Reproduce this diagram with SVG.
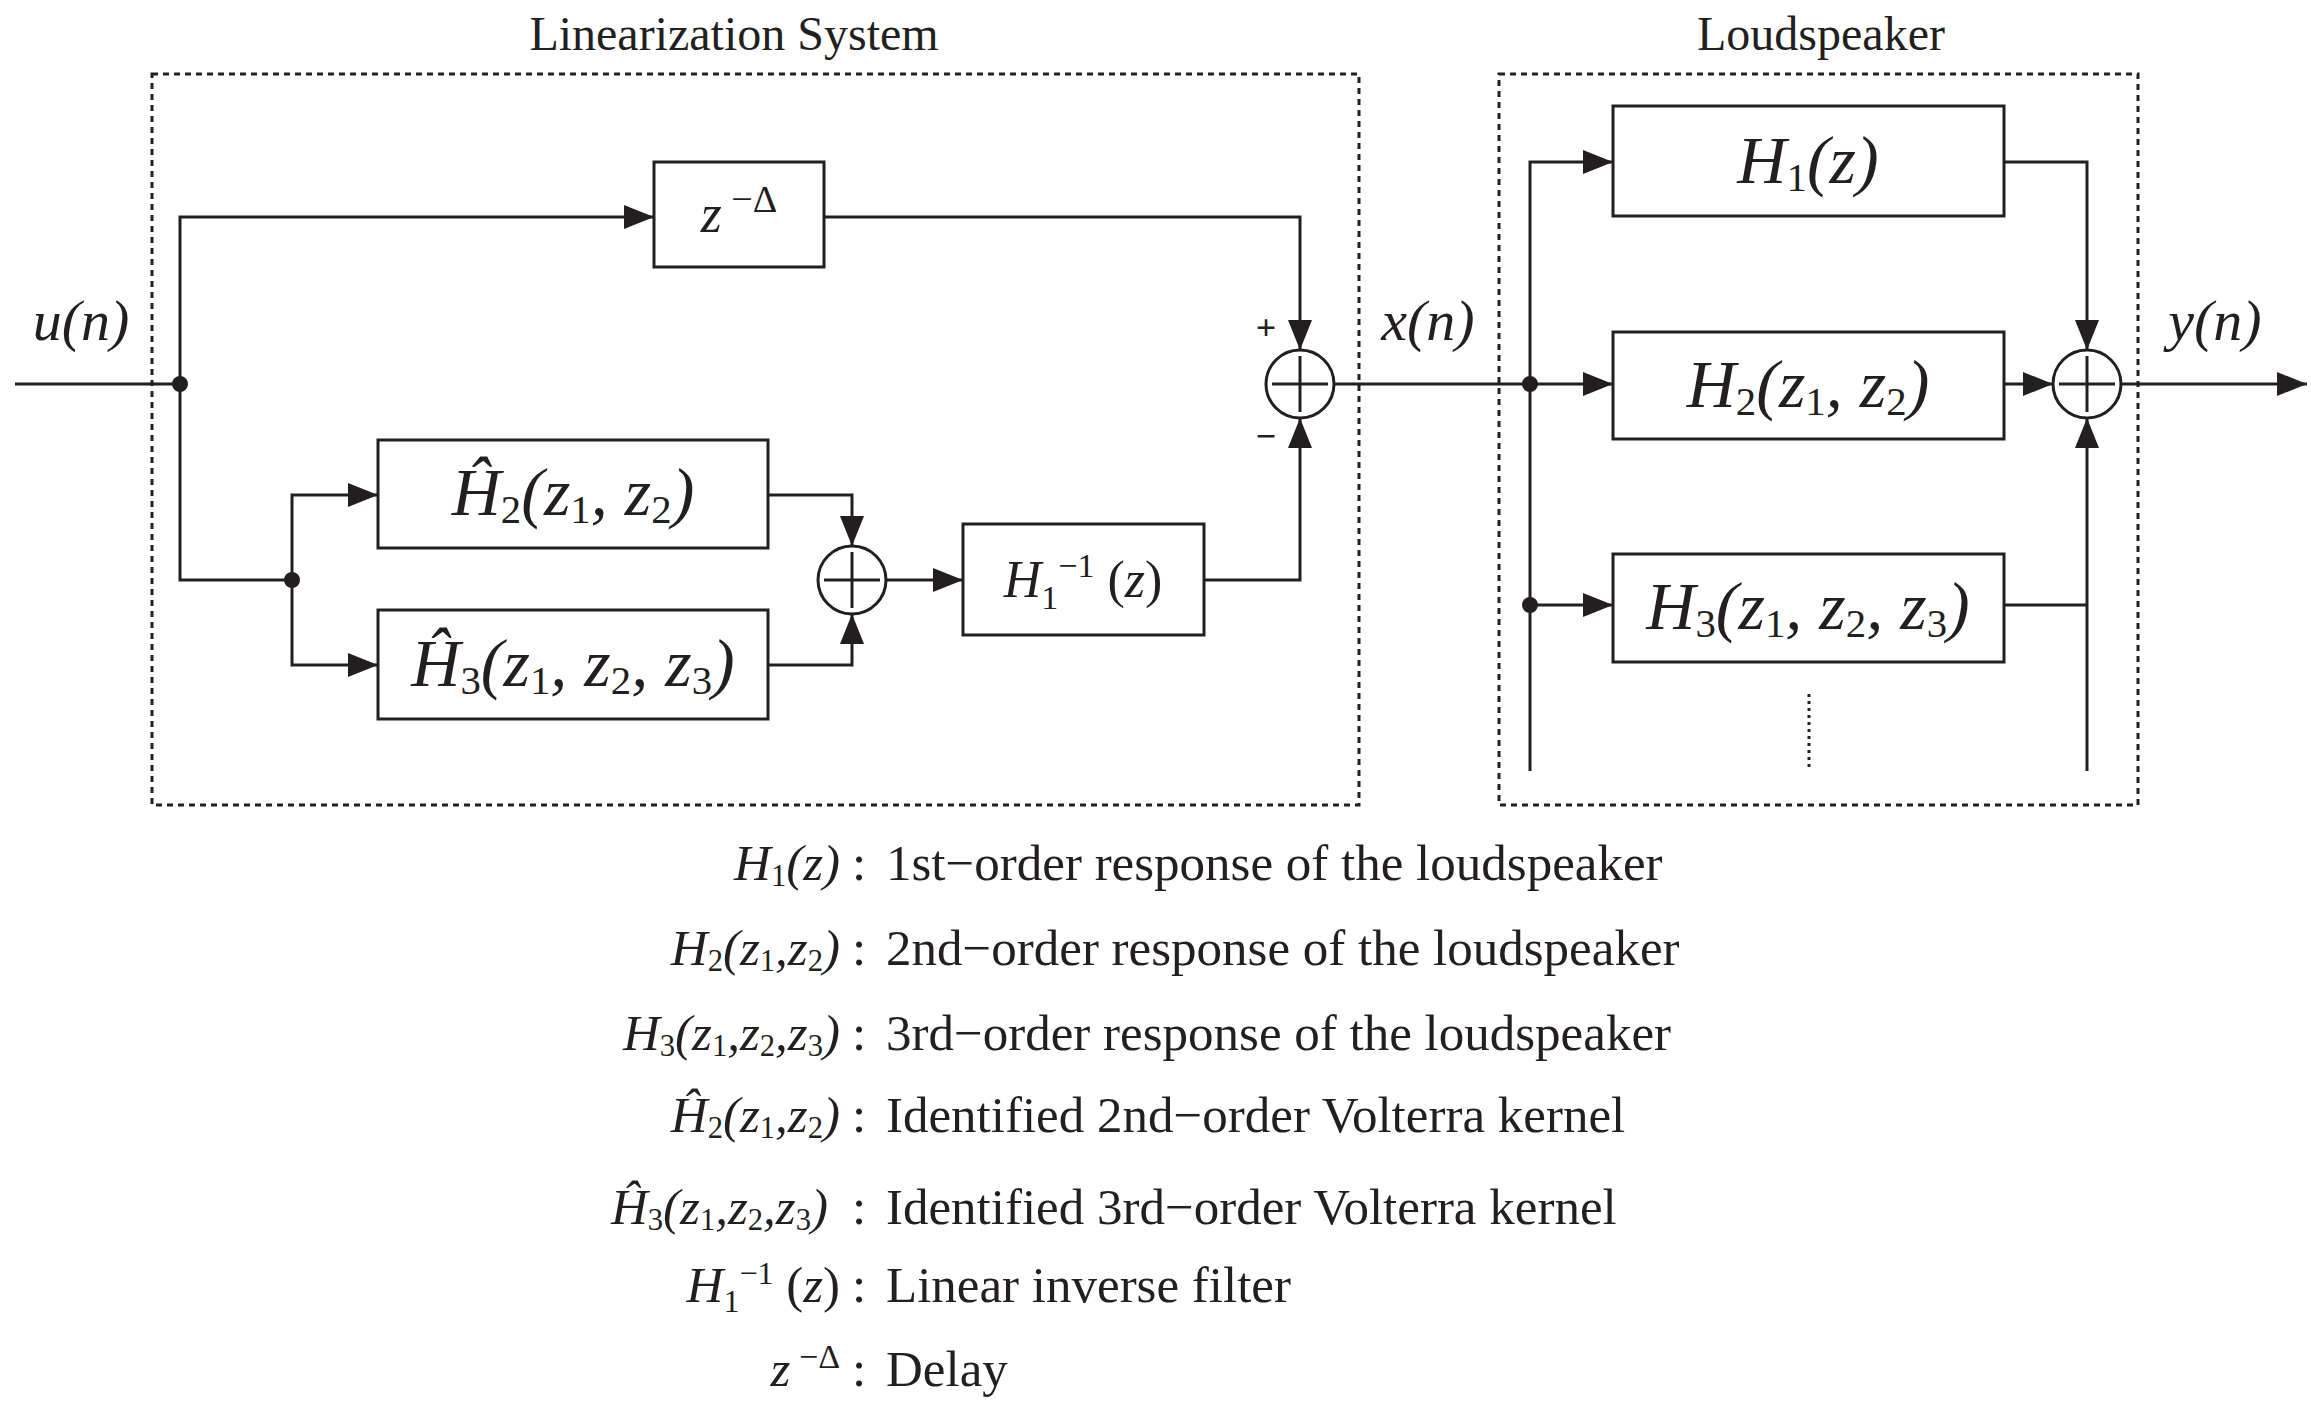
<svg xmlns="http://www.w3.org/2000/svg" width="2311" height="1409" viewBox="0 0 2311 1409">
<style>
text{font-family:"Liberation Serif","Times New Roman",serif;fill:#231f20}
.i{font-style:italic}
.b{font-size:68px}
.t{font-size:48px}
.l{font-size:51px}
.s{font-size:60%;font-style:normal;baseline-shift:-20%}
.box{fill:none;stroke:#231f20;stroke-width:3}
.dash{fill:none;stroke:#231f20;stroke-width:3;stroke-dasharray:6,5}
.w{fill:none;stroke:#231f20;stroke-width:3}
.dot{fill:#231f20}
</style>
<defs><marker id="A" markerWidth="30" markerHeight="24" refX="30" refY="12" orient="auto" markerUnits="userSpaceOnUse" viewBox="0 0 30 24"><path d="M0,0L30,12L0,24z" fill="#231f20"/></marker></defs>
<rect class="dash" x="152" y="74" width="1207" height="731"/>
<rect class="dash" x="1499" y="74" width="639" height="731"/>
<text class="t" x="734" y="50" text-anchor="middle">Linearization System</text>
<text class="t" x="1821" y="50" text-anchor="middle">Loudspeaker</text>
<g id="connectors">
<path class="w" d="M15,384H180"/>
<path class="w" d="M180,384V217H654" marker-end="url(#A)"/>
<path class="w" d="M824,217H1300V350" marker-end="url(#A)"/>
<path class="w" d="M180,384V580H292"/>
<path class="w" d="M292,580V495H378" marker-end="url(#A)"/>
<path class="w" d="M292,580V665H378" marker-end="url(#A)"/>
<path class="w" d="M768,495H852V546" marker-end="url(#A)"/>
<path class="w" d="M768,665H852V614" marker-end="url(#A)"/>
<path class="w" d="M886,580H963" marker-end="url(#A)"/>
<path class="w" d="M1204,580H1300V418" marker-end="url(#A)"/>
<path class="w" d="M1334,384H1613" marker-end="url(#A)"/>
<path class="w" d="M1530,771V162H1613" marker-end="url(#A)"/>
<path class="w" d="M1530,605H1613" marker-end="url(#A)"/>
<path class="w" d="M2004,162H2087V350" marker-end="url(#A)"/>
<path class="w" d="M2004,384H2053" marker-end="url(#A)"/>
<path class="w" d="M2004,605H2087"/>
<path class="w" d="M2087,771V418" marker-end="url(#A)"/>
<path class="w" d="M2121,384H2307" marker-end="url(#A)"/>
<path class="w" d="M1809,694V768" stroke-dasharray="3,4"/>
<circle class="dot" cx="180" cy="384" r="8"/>
<circle class="dot" cx="292" cy="580" r="8"/>
<circle class="dot" cx="1530" cy="384" r="8"/>
<circle class="dot" cx="1530" cy="605" r="8"/>
</g>
<g id="sum1"><circle class="box" cx="1300" cy="384" r="34"/><path class="w" d="M1300,356V412M1272,384H1328"/>
<text x="1266" y="340" font-size="36" font-weight="bold" text-anchor="middle" font-family="Liberation Sans">+</text>
<text x="1266" y="448" font-size="36" font-weight="bold" text-anchor="middle" font-family="Liberation Sans">−</text></g>
<g id="sum2"><circle class="box" cx="852" cy="580" r="34"/><path class="w" d="M852,552V608M824,580H880"/></g>
<g id="sum3"><circle class="box" cx="2087" cy="384" r="34"/><path class="w" d="M2087,356V412M2059,384H2115"/></g>
<g id="delay"><rect class="box" x="654" y="162" width="170" height="105"/><text x="739" y="232" text-anchor="middle" font-size="54"><tspan class="i">z</tspan><tspan dy="-20" font-size="38"> −Δ</tspan></text></g>
<g id="h2hat"><rect class="box" x="378" y="440" width="390" height="108"/><text class="b i" x="573" y="515" text-anchor="middle">Ĥ<tspan class="s">2</tspan>(z<tspan class="s">1</tspan>, z<tspan class="s">2</tspan>)</text></g>
<g id="h3hat"><rect class="box" x="378" y="610" width="390" height="109"/><text class="b i" x="573" y="686" text-anchor="middle">Ĥ<tspan class="s">3</tspan>(z<tspan class="s">1</tspan>, z<tspan class="s">2</tspan>, z<tspan class="s">3</tspan>)</text></g>
<g id="h1inv"><rect class="box" x="963" y="524" width="241" height="111"/><text x="1083" y="597" text-anchor="middle" font-size="52"><tspan class="i">H</tspan><tspan dy="12" font-size="34">1</tspan><tspan dy="-32" font-size="34">−1</tspan><tspan dy="20"> (</tspan><tspan class="i">z</tspan>)</text></g>
<g id="h1"><rect class="box" x="1613" y="106" width="391" height="110"/><text class="b i" x="1808" y="183" text-anchor="middle">H<tspan class="s">1</tspan>(z)</text></g>
<g id="h2"><rect class="box" x="1613" y="332" width="391" height="107"/><text class="b i" x="1808" y="407" text-anchor="middle">H<tspan class="s">2</tspan>(z<tspan class="s">1</tspan>, z<tspan class="s">2</tspan>)</text></g>
<g id="h3"><rect class="box" x="1613" y="554" width="391" height="108"/><text class="b i" x="1808" y="629" text-anchor="middle">H<tspan class="s">3</tspan>(z<tspan class="s">1</tspan>, z<tspan class="s">2</tspan>, z<tspan class="s">3</tspan>)</text></g>
<text class="i" x="81" y="340" text-anchor="middle" font-size="58">u(n)</text>
<text class="i" x="1428" y="340" text-anchor="middle" font-size="58">x(n)</text>
<text class="i" x="2215" y="340" text-anchor="middle" font-size="58">y(n)</text>
<g id="legend">
<text x="840" y="880" text-anchor="end" class="l i">H<tspan class="s">1</tspan>(z)</text>
<text x="840" y="965" text-anchor="end" class="l i">H<tspan class="s">2</tspan>(z<tspan class="s">1</tspan>,z<tspan class="s">2</tspan>)</text>
<text x="840" y="1050" text-anchor="end" class="l i">H<tspan class="s">3</tspan>(z<tspan class="s">1</tspan>,z<tspan class="s">2</tspan>,z<tspan class="s">3</tspan>)</text>
<text x="840" y="1132" text-anchor="end" class="l i">Ĥ<tspan class="s">2</tspan>(z<tspan class="s">1</tspan>,z<tspan class="s">2</tspan>)</text>
<text x="828" y="1224" text-anchor="end" class="l i">Ĥ<tspan class="s">3</tspan>(z<tspan class="s">1</tspan>,z<tspan class="s">2</tspan>,z<tspan class="s">3</tspan>)</text>
<text x="840" y="1302" text-anchor="end" class="l"><tspan class="i">H</tspan><tspan dy="10" font-size="32">1</tspan><tspan dy="-28" font-size="32">−1</tspan><tspan dy="18"> (</tspan><tspan class="i">z</tspan>)</text>
<text x="840" y="1386" text-anchor="end" class="l"><tspan class="i">z</tspan><tspan dy="-18" font-size="34"> −Δ</tspan></text>
<text x="852" y="880" class="l">:</text><text x="886" y="880" class="l">1st−order response of the loudspeaker</text>
<text x="852" y="965" class="l">:</text><text x="886" y="965" class="l">2nd−order response of the loudspeaker</text>
<text x="852" y="1050" class="l">:</text><text x="886" y="1050" class="l">3rd−order response of the loudspeaker</text>
<text x="852" y="1132" class="l">:</text><text x="886" y="1132" class="l">Identified 2nd−order Volterra kernel</text>
<text x="852" y="1224" class="l">:</text><text x="886" y="1224" class="l">Identified 3rd−order Volterra kernel</text>
<text x="852" y="1302" class="l">:</text><text x="886" y="1302" class="l">Linear inverse filter</text>
<text x="852" y="1386" class="l">:</text><text x="886" y="1386" class="l">Delay</text>
</g>
</svg>
